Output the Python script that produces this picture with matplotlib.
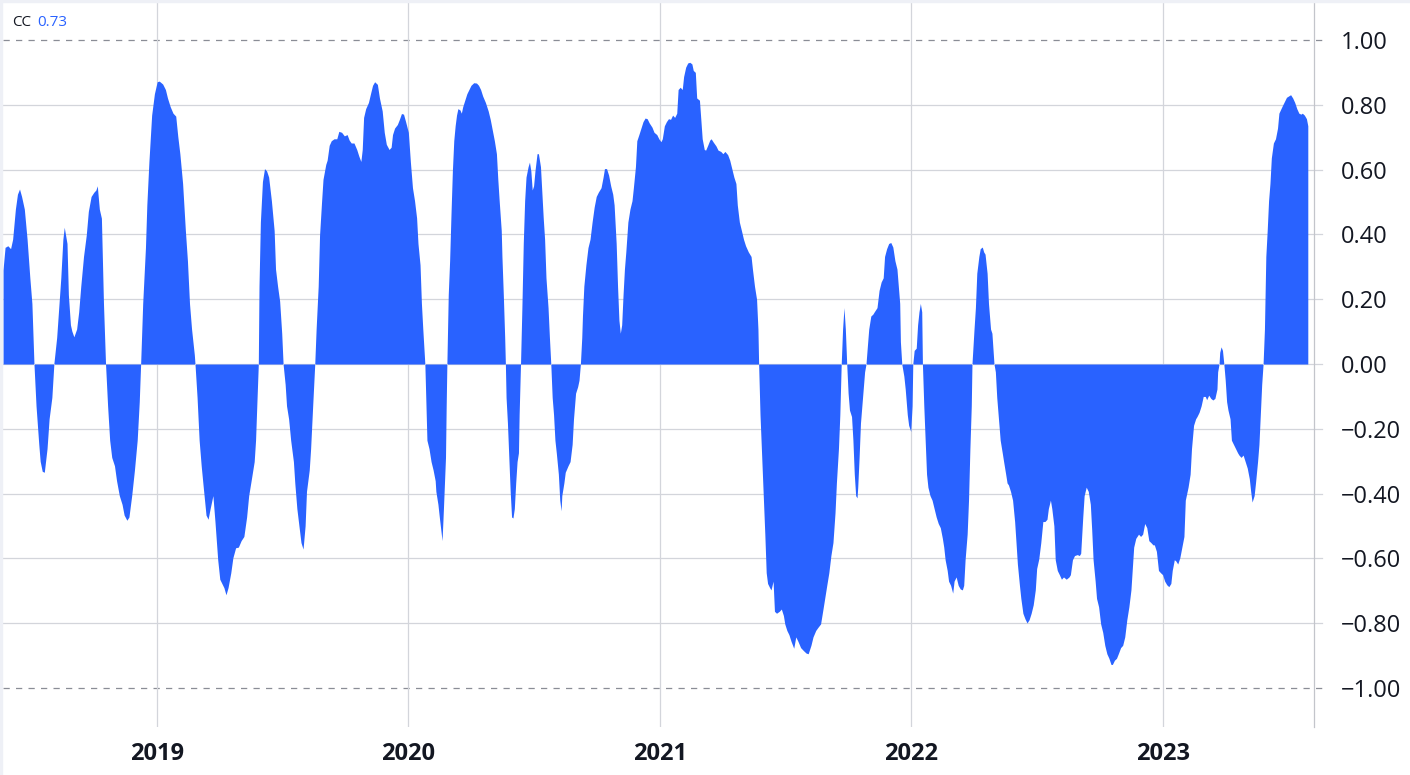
import numpy as np
import matplotlib
matplotlib.use("Agg")
import matplotlib.pyplot as plt
from matplotlib.patches import Rectangle

# ---------------- data (day offsets from base date, correlation values) ----------------
base_date = np.datetime64("2018-05-18")

days_1 = [4,7,11,15,18,22,25,28,31,35,39,43,46,49,52,56,58,61,64,68,71,75,78,82,85,88,91,93,97,99,
          102,104,107,111,114,117,121,125,128,132,136,139,141,144,147,150,153,156,159,162,166,169,173,177,180,184,187,191,195,199,
          202,204,207,211,213,216,220,224,228,231,236,240,243,247,251,255,258,261,265,269,272,275,278,282,283,286,289,292,295,299,
          302,305,309,312,316]
cc_1 = [0.29,0.36,0.365,0.356,0.385,0.478,0.524,0.54,0.517,0.478,0.385,0.266,0.187,0.0,-0.129,-0.248,-0.30,-0.331,-0.334,-0.261,
        -0.169,-0.103,0.003,0.082,0.174,0.266,0.385,0.422,0.372,0.214,0.121,0.102,0.084,0.108,0.161,0.24,0.332,0.398,0.471,0.517,
        0.53,0.537,0.55,0.478,0.45,0.187,0.0,-0.129,-0.235,-0.288,-0.314,-0.36,-0.406,-0.433,-0.466,-0.482,-0.472,-0.406,-0.327,-0.235,
        -0.116,0.0,0.187,0.359,0.491,0.623,0.768,0.834,0.871,0.873,0.864,0.847,0.821,0.794,0.774,0.765,0.702,0.649,0.557,0.412,
        0.319,0.187,0.108,0.029,0.0,-0.103,-0.235,-0.314,-0.38,-0.466,-0.479,-0.446,-0.406,-0.486,-0.604]

days_2 = [319,322,325,328,331,335,338,342,346,350,354,358,361,365,369,371,373,375,376,378,
          381,384,387,390,394,398,400,403,406,409,411,414,416,419,422,426,428,431,434,437,
          440,443,445,449,451,454,457,459,462,464,467,469,473,475,478,481,485,489,492,496,
          500,504,507,510,514,518,521,524,526,528,531,535,538,541,544,548,551,555,558,561,
          565,568,570,573,577,580,583,586,589,593,596,599,602,605,607,610,612,614,617,620,
          623,626,629,632]
cc_2 = [-0.664,-0.677,-0.69,-0.712,-0.69,-0.644,-0.598,-0.567,-0.565,-0.545,-0.532,-0.472,-0.406,-0.354,-0.301,-0.235,-0.116,0.0,0.24,0.438,
        0.563,0.603,0.596,0.577,0.504,0.412,0.293,0.24,0.194,0.095,0.0,-0.063,-0.129,-0.169,-0.235,-0.301,-0.367,-0.446,-0.499,-0.551,
        -0.571,-0.499,-0.393,-0.327,-0.261,-0.129,0.0,0.108,0.24,0.398,0.504,0.57,0.616,0.629,0.675,0.689,0.695,0.695,0.718,0.715,
        0.704,0.708,0.691,0.682,0.682,0.662,0.642,0.625,0.662,0.761,0.788,0.807,0.834,0.86,0.871,0.863,0.821,0.781,0.715,0.678,
        0.662,0.669,0.708,0.728,0.739,0.755,0.773,0.771,0.748,0.715,0.623,0.544,0.504,0.451,0.372,0.306,0.187,0.108,0.0,-0.235,
        -0.261,-0.301,-0.327,-0.36]

days_3 = [633,636,638,642,644,647,648,649,651,653,655,657,659,661,663,665,668,670,672,675,
          678,681,684,688,692,695,698,701,705,709,712,715,718,721,723,725,728,729,731,733,
          734,735,737,739,741,743,745,747,749,751,753,754,756,758,760,762,764,767,769,771,
          773,775,777,780,782,785,787,789,791,793,796,798,800,802,804,806,808,811,813,815,
          816,819,821,825,828,831,833,836,839,841,843,845,846,848,851,854,857,860,863,866,
          869,873,876,878,881,884,887,890,892,895,897,899,901,903,905,907,909,912,915,918,
          920,923,925,928,931,934,937,940,943,947,950]
cc_3 = [-0.393,-0.433,-0.472,-0.545,-0.446,-0.288,-0.129,0.0,0.214,0.319,0.464,0.596,0.689,0.735,0.768,0.788,0.784,0.774,0.794,0.814,
        0.834,0.847,0.86,0.868,0.867,0.86,0.847,0.827,0.807,0.781,0.755,0.722,0.689,0.649,0.57,0.504,0.412,0.332,0.214,0.082,
        0.0,-0.103,-0.182,-0.288,-0.393,-0.472,-0.475,-0.446,-0.367,-0.301,-0.274,-0.156,0.0,0.174,0.372,0.504,0.577,0.609,0.623,0.596,
        0.537,0.55,0.596,0.649,0.649,0.609,0.53,0.451,0.385,0.266,0.174,0.082,0.0,-0.103,-0.156,-0.235,-0.274,-0.34,-0.42,-0.453,
        -0.406,-0.367,-0.334,-0.314,-0.301,-0.248,-0.169,-0.09,-0.07,-0.05,0.0,0.082,0.148,0.24,0.306,0.359,0.385,0.438,0.484,0.517,
        0.53,0.544,0.577,0.603,0.603,0.583,0.55,0.524,0.491,0.372,0.24,0.135,0.095,0.121,0.214,0.293,0.346,0.438,0.478,0.504,
        0.544,0.609,0.689,0.708,0.728,0.748,0.759,0.757,0.744,0.731,0.715]

days_4 = [954,957,960,962,965,968,971,974,977,980,983,985,988,991,993,996,999,1002,1005,1007,
          1010,1012,1016,1018,1020,1023,1025,1028,1031,1033,1036,1040,1043,1047,1050,1053,1057,1060,1063,1066,
          1069,1071,1074,1077,1080,1083,1087,1091,1093,1096,1099,1101,1102,1104,1106,1108,1111,1113,1115,1118,
          1120,1123,1125,1128,1132,1135,1138,1140,1143,1146,1149,1153,1156,1159,1163,1167,1171,1174,1178,1181,
          1185,1188,1192,1195,1198,1201,1204,1207,1210,1213,1215,1218,1220,1222,1224,1226,1228,1230,1232,1234,
          1237,1239,1241,1243,1245,1246,1248,1250,1253,1256,1258,1260,1262,1265,1268]
cc_4 = [0.708,0.695,0.686,0.695,0.735,0.748,0.757,0.755,0.768,0.761,0.774,0.847,0.854,0.847,0.887,0.916,0.929,0.931,0.926,0.906,
        0.9,0.821,0.814,0.755,0.695,0.662,0.66,0.675,0.691,0.695,0.685,0.673,0.66,0.656,0.649,0.656,0.646,0.629,0.603,0.577,
        0.557,0.491,0.438,0.412,0.385,0.365,0.346,0.332,0.293,0.24,0.2,0.108,0.0,-0.156,-0.261,-0.367,-0.525,-0.644,-0.677,-0.69,
        -0.697,-0.67,-0.763,-0.769,-0.763,-0.756,-0.776,-0.802,-0.822,-0.835,-0.855,-0.877,-0.842,-0.855,-0.875,-0.884,-0.892,-0.894,-0.868,-0.842,
        -0.822,-0.813,-0.802,-0.763,-0.723,-0.683,-0.644,-0.591,-0.551,-0.459,-0.367,-0.261,-0.156,0.0,0.108,0.174,0.108,0.0,-0.09,-0.142,
        -0.162,-0.235,-0.34,-0.406,-0.413,-0.38,-0.288,-0.182,-0.103,-0.024,0.0,0.055,0.108,0.148,0.154]

days_5 = [1270,1274,1277,1280,1283,1285,1288,1291,1294,1297,1300,1303,1305,1307,1308,1310,1313,1315,1318,1320,
          1323,1325,1326,1328,1331,1333,1335,1337,1339,1340,1342,1344,1346,1348,1351,1354,1357,1360,1363,1366,
          1369,1371,1373,1376,1378,1381,1384,1386,1389,1392,1395,1398,1400,1402,1405,1407,1409,1411,1412,1415,
          1417,1419,1422,1424,1427,1429,1431,1434,1436,1439,1441,1444,1446,1448,1451,1453,1456,1458,1461,1463,
          1465,1468,1471,1474,1476,1478,1481,1483,1486,1489,1492,1495,1498,1501,1504,1506,1509,1512,1515,1518,
          1521,1523,1526,1528,1531,1533,1536,1539,1542,1545,1549,1553,1555,1558,1561,1565,1568,1570,1573,1575,
          1578,1581]
cc_5 = [0.161,0.174,0.227,0.253,0.266,0.332,0.356,0.372,0.375,0.361,0.319,0.293,0.24,0.187,0.069,0.0,-0.037,-0.077,-0.156,-0.189,
        -0.208,-0.129,0.0,0.042,0.049,0.121,0.161,0.187,0.161,0.0,-0.129,-0.235,-0.34,-0.38,-0.406,-0.42,-0.446,-0.472,-0.492,-0.505,
        -0.538,-0.565,-0.604,-0.637,-0.67,-0.683,-0.707,-0.67,-0.657,-0.683,-0.694,-0.697,-0.683,-0.604,-0.525,-0.42,-0.261,-0.129,0.0,0.108,
        0.174,0.28,0.332,0.356,0.361,0.346,0.339,0.28,0.187,0.108,0.095,0.0,-0.024,-0.103,-0.182,-0.235,-0.274,-0.301,-0.34,-0.367,
        -0.373,-0.393,-0.42,-0.486,-0.551,-0.617,-0.683,-0.723,-0.769,-0.786,-0.799,-0.789,-0.769,-0.743,-0.697,-0.631,-0.602,-0.551,-0.486,-0.486,
        -0.479,-0.446,-0.42,-0.446,-0.499,-0.604,-0.637,-0.65,-0.664,-0.657,-0.664,-0.657,-0.65,-0.604,-0.591,-0.588,-0.591,-0.584,-0.472,-0.406,
        -0.38,-0.393]

days_6 = [1584,1586,1588,1591,1593,1596,1599,1602,1605,1608,1611,1614,1616,1619,1622,1625,1628,1631,1634,1637,
          1640,1643,1645,1647,1650,1654,1657,1660,1663,1666,1669,1672,1675,1677,1680,1683,1686,1689,1692,1695,
          1698,1701,1703,1706,1708,1711,1714,1717,1720,1722,1724,1726,1729,1731,1734,1737,1739,1742,1745,1748,
          1751,1753,1756,1759,1762,1765,1768,1769,1771,1772,1774,1776,1778,1780,1782,1784,1787,1789,1792,1795,
          1798,1800,1803,1806,1809,1812,1815,1817,1819,1822,1824,1827,1829,1831,1833,1835,1837,1839,1841,1843,
          1845,1847,1850,1853,1856,1858,1861,1863,1866,1869,1872,1875,1878,1881,1884,1887,1890,1892,1895,1898,
          1900]
cc_6 = [-0.433,-0.512,-0.604,-0.67,-0.723,-0.749,-0.802,-0.828,-0.868,-0.894,-0.908,-0.927,-0.927,-0.914,-0.908,-0.892,-0.875,-0.868,-0.842,-0.789,
        -0.749,-0.697,-0.631,-0.565,-0.538,-0.525,-0.532,-0.525,-0.492,-0.505,-0.545,-0.551,-0.558,-0.558,-0.578,-0.637,-0.644,-0.65,-0.67,-0.681,
        -0.687,-0.677,-0.637,-0.604,-0.607,-0.617,-0.598,-0.565,-0.532,-0.42,-0.4,-0.38,-0.34,-0.261,-0.189,-0.169,-0.162,-0.149,-0.129,-0.1,
        -0.1,-0.11,-0.096,-0.106,-0.111,-0.106,-0.077,-0.024,0.0,0.036,0.053,0.042,0.0,-0.05,-0.116,-0.142,-0.169,-0.235,-0.248,-0.261,
        -0.274,-0.281,-0.288,-0.281,-0.301,-0.321,-0.354,-0.393,-0.426,-0.406,-0.367,-0.301,-0.248,-0.156,-0.063,0.0,0.108,0.332,0.412,0.504,
        0.557,0.636,0.682,0.695,0.728,0.774,0.788,0.797,0.81,0.823,0.827,0.831,0.821,0.807,0.788,0.774,0.771,0.774,0.768,0.757,
        0.735]

year_ticks = ["2019-01-01", "2020-01-01", "2021-01-01", "2022-01-01", "2023-01-01"]
year_labels = ["2019", "2020", "2021", "2022", "2023"]
y_ticks = [-1.0, -0.8, -0.6, -0.4, -0.2, 0.0, 0.2, 0.4, 0.6, 0.8, 1.0]
indicator_name = "CC"

# ---------------- build ----------------
days = np.concatenate([days_1, days_2, days_3, days_4, days_5, days_6]).astype(int)
cc = np.concatenate([cc_1, cc_2, cc_3, cc_4, cc_5, cc_6])
dates = base_date + days.astype("timedelta64[D]")
last_value = cc[-1]

FONT = ["Open Sans", "DejaVu Sans"]
TEXT = "#131722"
BLUE = "#2962FF"
GRID = "#D3D5DB"

W, H = 1410, 775
fig = plt.figure(figsize=(W / 100, H / 100), dpi=100)
fig.patch.set_facecolor("white")

left_px, right_px, top_px, bottom_px = 3, 1314, 3, 727
ax = fig.add_axes([left_px / W, 1 - bottom_px / H, (right_px - left_px) / W, (bottom_px - top_px) / H])
ax.set_facecolor("white")

ax.fill_between(dates, cc, 0, color=BLUE, linewidth=0, zorder=3)

ax.set_xlim(base_date + np.timedelta64(4, "D"), base_date + np.timedelta64(1909, "D"))
ax.set_ylim(-1.12, 1.114)

# horizontal grid lines (extended slightly past the price axis)
ext = 1 + 8 / (right_px - left_px)
ytr = ax.get_yaxis_transform()
for yv in y_ticks:
    if abs(abs(yv) - 1.0) < 1e-9:
        ax.plot([0, ext], [yv, yv], transform=ytr, color="#8A8D96", lw=0.9,
                ls=(0, (5, 5)), clip_on=False, zorder=1)
    else:
        ax.plot([0, ext], [yv, yv], transform=ytr, color=GRID, lw=0.9,
                clip_on=False, zorder=1)

# vertical year grid lines
xticks = [np.datetime64(t) for t in year_ticks]
ax.set_xticks(xticks)
ax.set_xticklabels(year_labels, fontsize=17, fontweight="bold", color=TEXT, family=FONT)
ax.grid(axis="x", color=GRID, lw=0.9, zorder=1)
ax.tick_params(axis="x", length=0, pad=11)

ax.yaxis.tick_right()
ax.set_yticks(y_ticks)
ax.set_yticklabels([f"{v:.2f}".replace("-", "\u2212") for v in y_ticks],
                   fontsize=17, color=TEXT, family=FONT)
ax.tick_params(axis="y", length=0, pad=19)

for s in ["left", "top", "bottom"]:
    ax.spines[s].set_visible(False)
ax.spines["right"].set_color("#C3C5CB")
ax.spines["right"].set_linewidth(0.9)

# pane borders
fig.patches.append(Rectangle((0, 0), 2 / W, 1, transform=fig.transFigure, color="#EEF0F6", zorder=0))
fig.patches.append(Rectangle((0, 1 - 2 / H), 1, 2 / H, transform=fig.transFigure, color="#EEF0F6", zorder=0))

# indicator legend
fig.text(12.5 / W, 1 - 22.5 / H, indicator_name, fontsize=11, color=TEXT, family=FONT, va="center")
fig.text(37.5 / W, 1 - 22.5 / H, f"{last_value:.2f}", fontsize=11, color=BLUE, family=FONT, va="center")

fig.savefig("out.png", dpi=100, facecolor="white")
